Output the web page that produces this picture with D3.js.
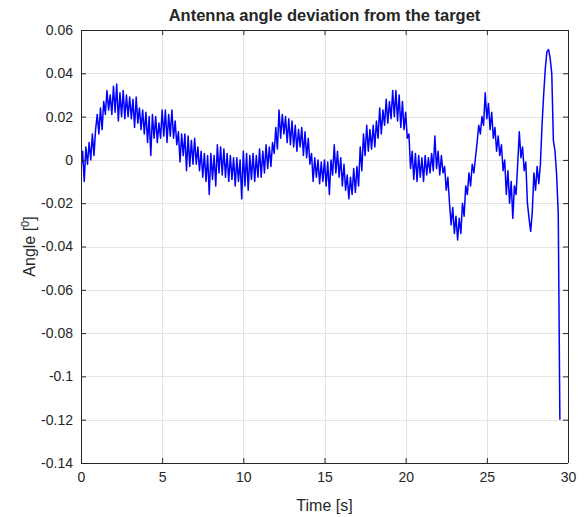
<!DOCTYPE html>
<html>
<head>
<meta charset="utf-8">
<script src="https://cdn.jsdelivr.net/npm/d3@7"></script>
<style>
  html, body { margin: 0; padding: 0; background: #ffffff; }
  svg { display: block; }
  text { font-family: "Liberation Sans", Arial, Helvetica, sans-serif; fill: #262626; }
</style>
</head>
<body>
<div id="chart"></div>
<script>
// ---- data ----
const titleText = "Antenna angle deviation from the target";
const xLabel = "Time [s]";
const xTicks = [0, 5, 10, 15, 20, 25, 30];
const xTickLabels = ["0", "5", "10", "15", "20", "25", "30"];
const yTicks = [0.06, 0.04, 0.02, 0, -0.02, -0.04, -0.06, -0.08, -0.1, -0.12, -0.14];
const yTickLabels = ["0.06", "0.04", "0.02", "0", "-0.02", "-0.04", "-0.06", "-0.08", "-0.1", "-0.12", "-0.14"];
const sampleStep = 0.1; // seconds between samples
const angle = [
  -0.004, 0.004, -0.010, 0.006, -0.002, 0.008, 0.000, 0.012, 0.002, 0.014,
  0.021, 0.012, 0.024, 0.014, 0.027, 0.021, 0.032, 0.023, 0.030, 0.021,
  0.034, 0.022, 0.035, 0.018, 0.031, 0.020, 0.032, 0.019, 0.030, 0.020,
  0.029, 0.019, 0.028, 0.015, 0.029, 0.017, 0.024, 0.014, 0.023, 0.012,
  0.022, 0.008, 0.020, 0.002, 0.021, 0.010, 0.020, 0.008, 0.017, 0.010,
  0.023, 0.011, 0.023, 0.008, 0.021, 0.011, 0.023, 0.010, 0.018, 0.007,
  0.013, -0.001, 0.012, 0.002, 0.012, -0.005, 0.011, -0.003, 0.009, -0.002,
  0.010, -0.002, 0.006, -0.005, 0.004, -0.008, 0.003, -0.010, 0.002, -0.016,
  0.003, -0.009, 0.002, -0.012, 0.007, -0.006, 0.006, -0.007, 0.005, -0.008,
  0.003, -0.010, 0.002, -0.009, 0.001, -0.012, 0.001, -0.010, 0.000, -0.018,
  0.004, -0.012, 0.003, -0.014, 0.002, -0.009, 0.003, -0.010, 0.002, -0.008,
  0.005, -0.008, 0.004, -0.006, 0.007, -0.004, 0.006, -0.003, 0.008, 0.003,
  0.015, 0.005, 0.023, 0.010, 0.021, 0.012, 0.020, 0.008, 0.019, 0.007,
  0.018, 0.006, 0.016, 0.004, 0.014, 0.006, 0.015, 0.002, 0.013, 0.001,
  0.010, -0.002, 0.003, -0.010, 0.001, -0.008, 0.000, -0.011, -0.001, -0.010,
  0.000, -0.012, -0.001, -0.016, 0.000, -0.007, 0.007, -0.006, 0.004, -0.008,
  0.001, -0.012, -0.002, -0.014, -0.007, -0.018, -0.008, -0.016, -0.004, -0.015,
  -0.003, -0.012, 0.006, -0.005, 0.012, 0.002, 0.016, 0.004, 0.014, 0.005,
  0.016, 0.006, 0.018, 0.010, 0.024, 0.012, 0.023, 0.016, 0.028, 0.017,
  0.027, 0.019, 0.032, 0.020, 0.032, 0.018, 0.030, 0.015, 0.027, 0.014,
  0.022, 0.010, 0.012, -0.004, 0.004, -0.009, 0.003, -0.010, 0.002, -0.008,
  0.001, -0.010, 0.002, -0.007, 0.001, -0.006, 0.003, -0.005, 0.011, -0.004,
  0.004, -0.007, 0.002, -0.006, -0.003, -0.014, -0.008, -0.020, -0.030, -0.022,
  -0.034, -0.026, -0.037, -0.027, -0.034, -0.020, -0.026, -0.012, -0.016, -0.006,
  -0.012, -0.002, -0.006, 0.001, 0.008, 0.016, 0.012, 0.020, 0.016, 0.031,
  0.019, 0.026, 0.014, 0.022, 0.010, 0.015, 0.004, 0.011, 0.002, 0.007,
  -0.005, 0.000, -0.016, -0.005, -0.020, -0.010, -0.027, -0.012, -0.016, -0.002,
  0.013, 0.001, 0.006, -0.005, -0.001, -0.020, -0.027, -0.033, -0.024, -0.006,
  -0.014, -0.003, -0.011, -0.002, 0.016, 0.030, 0.042, 0.050, 0.051, 0.047,
  0.040, 0.009, 0.004, -0.007, -0.025, -0.120
];

// ---- layout ----
const W = 584, H = 517;
const plot = { left: 81, right: 568, top: 30, bottom: 463 };

const svg = d3.select("#chart").append("svg").attr("width", W).attr("height", H);

const x = d3.scaleLinear().domain([0, 30]).range([plot.left, plot.right]);
const y = d3.scaleLinear().domain([-0.14, 0.06]).range([plot.bottom, plot.top]);

// grid
const grid = svg.append("g").attr("stroke", "#e3e3e3").attr("stroke-width", 1);
grid.selectAll("line.vx").data(xTicks.slice(1, -1)).enter().append("line")
  .attr("x1", d => Math.round(x(d)) + 0.5).attr("x2", d => Math.round(x(d)) + 0.5)
  .attr("y1", plot.top).attr("y2", plot.bottom);
grid.selectAll("line.hy").data(yTicks.slice(1, -1)).enter().append("line")
  .attr("y1", d => Math.round(y(d)) + 0.5).attr("y2", d => Math.round(y(d)) + 0.5)
  .attr("x1", plot.left).attr("x2", plot.right);

// data line
svg.append("clipPath").attr("id", "clip").append("rect")
  .attr("x", plot.left).attr("y", plot.top)
  .attr("width", plot.right - plot.left).attr("height", plot.bottom - plot.top);

const pts = angle.map((v, i) => [i * sampleStep, v]);
svg.append("path")
  .datum(pts)
  .attr("clip-path", "url(#clip)")
  .attr("fill", "none")
  .attr("stroke", "#0000ff")
  .attr("stroke-width", 1.5)
  .attr("stroke-linejoin", "round")
  .attr("d", d3.line().x(d => x(d[0])).y(d => y(d[1])));

// axes (MATLAB-like box with inward ticks)
const axColor = "#262626";
const bottomAxis = d3.axisBottom(x).tickValues(xTicks).tickSize(-5).tickPadding(9)
  .tickFormat((d, i) => xTickLabels[i]);
const topAxis = d3.axisTop(x).tickValues(xTicks).tickSize(-5).tickFormat("");
const leftAxis = d3.axisLeft(y).tickValues(yTicks).tickSize(-5).tickPadding(8)
  .tickFormat((d, i) => yTickLabels[i]);
const rightAxis = d3.axisRight(y).tickValues(yTicks).tickSize(-5).tickFormat("");

function styleAxis(g) {
  g.selectAll("path").attr("stroke", axColor).attr("stroke-width", 1);
  g.selectAll("line").attr("stroke", axColor).attr("stroke-width", 1);
  g.selectAll("text").attr("fill", axColor).style("font-size", "14px")
    .style("font-family", '"Liberation Sans", Arial, sans-serif');
}
svg.append("g").attr("transform", `translate(0,${plot.bottom})`).call(bottomAxis).call(styleAxis)
  .call(g => g.select(".domain").attr("d", `M${plot.left},0.5H${plot.right}`));
svg.append("g").attr("transform", `translate(0,${plot.top})`).call(topAxis).call(styleAxis)
  .call(g => g.select(".domain").attr("d", `M${plot.left},0.5H${plot.right}`));
svg.append("g").attr("transform", `translate(${plot.left},0)`).call(leftAxis).call(styleAxis)
  .call(g => g.select(".domain").attr("d", `M0.5,${plot.top}V${plot.bottom}`));
svg.append("g").attr("transform", `translate(${plot.right},0)`).call(rightAxis).call(styleAxis)
  .call(g => g.select(".domain").attr("d", `M0.5,${plot.top}V${plot.bottom}`));

// title
svg.append("text")
  .attr("x", (plot.left + plot.right) / 2).attr("y", 21)
  .attr("text-anchor", "middle")
  .style("font-size", "16.5px").style("font-weight", "bold").attr("fill", "#000")
  .text(titleText);

// x label
svg.append("text")
  .attr("x", (plot.left + plot.right) / 2).attr("y", 511)
  .attr("text-anchor", "middle")
  .style("font-size", "16px")
  .text(xLabel);

// y label with superscript 0
const yl = svg.append("text")
  .attr("transform", `translate(35,${(plot.top + plot.bottom) / 2}) rotate(-90)`)
  .attr("text-anchor", "middle")
  .style("font-size", "16px");
yl.append("tspan").text("Angle [");
yl.append("tspan").attr("dy", -6).style("font-size", "11px").text("0");
yl.append("tspan").attr("dy", 6).text("]");
</script>
</body>
</html>
